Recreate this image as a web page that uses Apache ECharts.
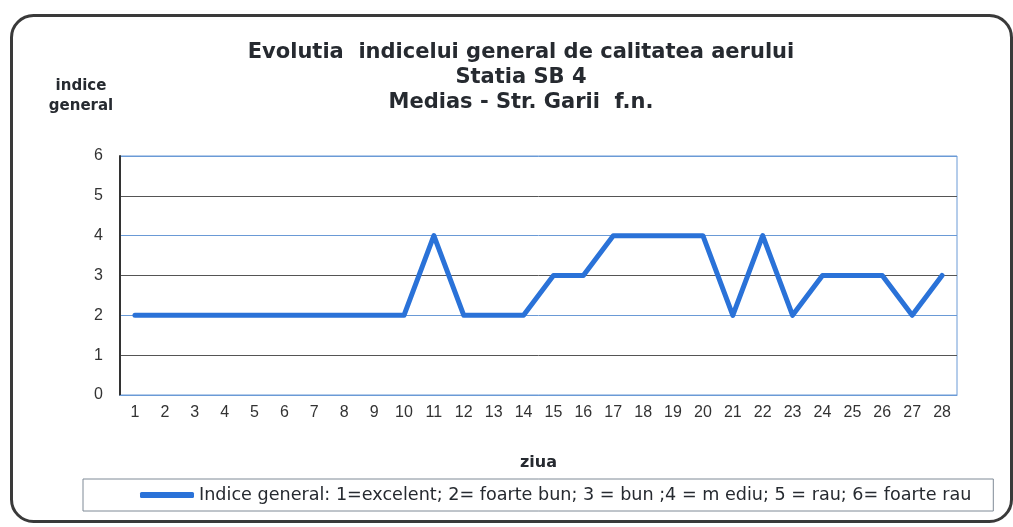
<!DOCTYPE html>
<html>
<head>
<meta charset="utf-8">
<script src="https://cdn.jsdelivr.net/npm/echarts@6/dist/echarts.min.js"></script>
<style>
html,body{margin:0;padding:0;background:#fff;}
#c{width:1013px;height:527px;}
</style>
</head>
<body>
<div id="c"></div>
<script>
const days = ['1','2','3','4','5','6','7','8','9','10','11','12','13','14','15','16','17','18','19','20','21','22','23','24','25','26','27','28'];
const indiceGeneral = [2,2,2,2,2,2,2,2,2,2,4,2,2,2,3,3,4,4,4,4,2,4,2,3,3,3,2,3];
const yTicks = [0,1,2,3,4,5,6];
const seriesName = 'Indice general: 1=excelent; 2= foarte bun; 3 = bun ;4 = m ediu; 5 = rau; 6= foarte rau';
const titleLines = ['Evolutia  indicelui general de calitatea aerului','Statia SB 4','Medias - Str. Garii  f.n.'];

const chart = echarts.init(document.getElementById('c'), null, {renderer:'canvas'});
const font = '"Liberation Sans", Arial, sans-serif';
const wide = '"DejaVu Sans", sans-serif';
chart.setOption({
  animation:false,
  backgroundColor:'#fff',
  textStyle:{fontFamily:font},
  graphic:[{
    type:'rect', left:10, top:14, z:-1,
    shape:{width:1000, height:506, r:22},
    style:{fill:'#fff', stroke:'#3a3a3a', lineWidth:3}
  }],
  title:[{
    text:titleLines.join('\n'),
    left:516, top:35, textAlign:'center',
    textStyle:{fontFamily:wide, fontSize:21, fontWeight:'bold', color:'#262a30', lineHeight:25}
  },{
    text:'indice\ngeneral',
    left:76, top:71, textAlign:'center',
    textStyle:{fontFamily:wide, fontSize:15, fontWeight:'bold', color:'#262a30', lineHeight:20}
  }],
  grid:{left:120, top:156, right:56, bottom:132, show:true, borderColor:'#6a9ad6', borderWidth:1},
  xAxis:{
    type:'category', data:days, boundaryGap:true,
    name:'ziua', nameLocation:'middle', nameGap:60,
    nameTextStyle:{fontFamily:wide, fontSize:16, fontWeight:'bold', color:'#262a30'},
    axisLine:{lineStyle:{color:'#6a9ad6'}},
    axisTick:{show:false},
    axisLabel:{fontFamily:font, fontSize:16, color:'#333', margin:10, interval:0}
  },
  yAxis:{
    type:'value', min:yTicks[0], max:yTicks[yTicks.length-1], interval:1,
    axisLine:{show:true, lineStyle:{color:'#333', width:2}},
    axisTick:{show:false},
    axisLabel:{fontFamily:font, fontSize:16, color:'#333', margin:17},
    splitLine:{lineStyle:{color:['#6a9ad6','#555'], width:1}}
  },
  legend:{
    left:83, top:479,
    padding:[7,22,7,57],
    borderColor:'#7f8a96', borderWidth:1, borderRadius:0,
    itemWidth:54, itemHeight:6, icon:'roundRect', itemGap:8,
    textStyle:{fontFamily:wide, fontSize:17.6, color:'#262a30'},
    data:[seriesName]
  },
  series:[{
    name:seriesName, type:'line', data:indiceGeneral,
    symbol:'none', smooth:false,
    lineStyle:{color:'#2a72d8', width:5, join:'round', cap:'round'},
    itemStyle:{color:'#2a72d8'}
  }]
});
</script>
</body>
</html>
